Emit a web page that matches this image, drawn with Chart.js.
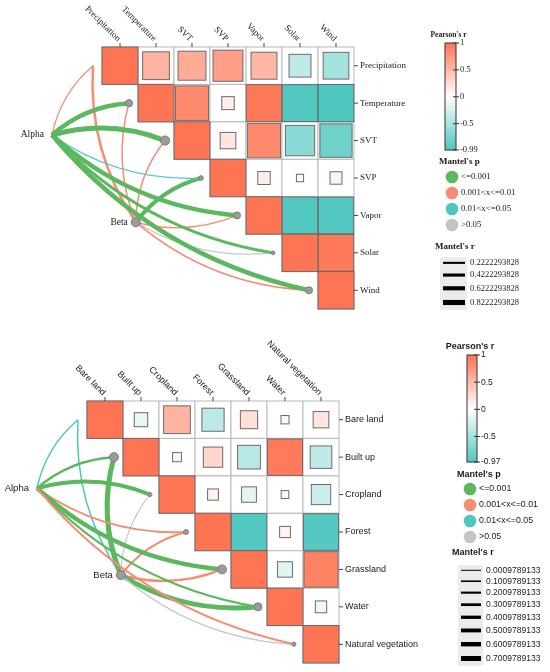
<!DOCTYPE html>
<html>
<head>
<meta charset="utf-8">
<script src="https://cdn.jsdelivr.net/npm/chart.js@4.4.1/dist/chart.umd.min.js"></script>
<style>
  body { margin: 0; background: #fff; }
  .panel { position: absolute; left: 0; width: 550px; height: 336px; }
</style>
</head>
<body>
<div class="panel" style="top:0"><canvas id="climate" width="550" height="336"></canvas></div>
<div class="panel" style="top:336px"><canvas id="land" width="550" height="336"></canvas></div>
<script>
// ---- top panel: climate variables ----
const climateVars = ['Precipitation', 'Temperature', 'SVT', 'SVP', 'Vapor', 'Solar', 'Wind']
// Pearson's r, upper triangle row by row (first value = diagonal)
const climateCorr = [
  [1, 0.55, 0.6, 0.69, 0.52, -0.37, -0.51],
  [1, 0.85, 0.12, 0.97, -0.97, -0.99],
  [1, 0.19, 0.85, -0.66, -0.8],
  [1, 0.12, 0.04, -0.11],
  [1, -0.97, -0.96],
  [1, 0.96],
  [1]
]
// mantel links, p class: 0 <=0.001, 1 0.001<x<=0.01, 2 0.01<x<=0.05, 3 >0.05
const climateAlphaP = [1, 0, 0, 2, 0, 0, 0]
const climateAlphaR = [0.05, 0.7, 0.82, 0.04, 0.7, 0.4, 0.7]
const climateBetaP = [1, 1, 1, 0, 1, 3, 1]
const climateBetaR = [0.3, 0.1, 0.1, 0.6, 0.1, 0.02, 0.1]
const climatePearsonTicks = [1, 0.5, 0, -0.5, -0.99]
const climateMantelRBreaks = ['0.2222293828', '0.4222293828', '0.6222293828', '0.8222293828']

// ---- bottom panel: land cover ----
const landVars = ['Bare land', 'Built up', 'Cropland', 'Forest', 'Grassland', 'Water', 'Natural vegetation']
const landCorr = [
  [1, -0.14, 0.55, -0.38, 0.23, 0.05, 0.19],
  [1, 0.06, 0.29, -0.4, 0.95, -0.36],
  [1, 0.09, -0.17, 0.045, -0.29],
  [1, -0.97, 0.09, -0.95],
  [1, -0.17, 0.9],
  [1, -0.1],
  [1]
]
const landAlphaP = [2, 0, 0, 1, 0, 0, 1]
const landAlphaR = [0.09, 0.26, 0.53, 0.18, 0.6, 0.18, 0.18]
const landBetaP = [2, 0, 3, 1, 1, 0, 3]
const landBetaR = [0.09, 0.72, 0.01, 0.22, 0.26, 0.68, 0.04]
const landPearsonTicks = [1, 0.5, 0, -0.5, -0.97]
const landMantelRBreaks = ['0.0009789133', '0.1009789133', '0.2009789133', '0.3009789133',
  '0.4009789133', '0.5009789133', '0.6009789133', '0.7009789133']

const pLabels = ['<=0.001', '0.001<x<=0.01', '0.01<x<=0.05', '>0.05']
const pColors = ['#5CB85F', '#F98B72', '#4FC7BF', '#C4C4C4']
const POS = [255, 116, 82]
const NEG = [76, 198, 190]

const rColor = (r) => {
  const c = r >= 0 ? POS : NEG
  const t = Math.min(1, Math.abs(r))
  return 'rgb(' + c.map(v => Math.round(255 + (v - 255) * t)).join(',') + ')'
}

const mantelPlugin = (p) => ({
  id: 'mantel',
  beforeDatasetsDraw(chart) {
    const ctx = chart.ctx
    const X = v => chart.scales.x.getPixelForValue(v)
    const Y = v => chart.scales.y.getPixelForValue(v)
    const n = p.vars.length
    ctx.save()
    ctx.lineWidth = 1
    // grid cells of upper triangle
    for (let i = 0; i < n; i++) {
      for (let j = i; j < n; j++) {
        const x0 = X(j - 0.5), y0 = Y(i - 0.5)
        ctx.fillStyle = '#fff'
        ctx.fillRect(x0, y0, X(j + 0.5) - x0, Y(i + 0.5) - y0)
        ctx.strokeStyle = '#b9b9b9'
        ctx.strokeRect(x0, y0, X(j + 0.5) - x0, Y(i + 0.5) - y0)
      }
    }
    // squares, side ~ sqrt(|r|)
    for (let i = 0; i < n; i++) {
      for (let j = i; j < n; j++) {
        const r = p.corr[i][j - i]
        const s = Math.sqrt(Math.abs(r))
        const x0 = X(j - s / 2), y0 = Y(i - s / 2)
        ctx.fillStyle = rColor(r)
        ctx.fillRect(x0, y0, X(j + s / 2) - x0, Y(i + s / 2) - y0)
        ctx.strokeStyle = '#6b6b6b'
        ctx.strokeRect(x0, y0, X(j + s / 2) - x0, Y(i + s / 2) - y0)
      }
    }
    // curved links
    const links = [
      [p.beta, p.betaP, p.betaR, 4],
      [p.alpha, p.alphaP, p.alphaR, 3]
    ]
    links.forEach(([node, pc, rr, upRows]) => {
      for (let k = 0; k < n; k++) {
        const x0 = X(node.x), y0 = Y(node.y)
        const x1 = X(k - 0.75), y1 = Y(k)
        const dx = x1 - x0, dy = y1 - y0
        const sg = k < upRows ? 1 : -1
        const cx = (x0 + x1) / 2 + sg * dy * 0.17
        const cy = (y0 + y1) / 2 - sg * dx * 0.17
        ctx.beginPath()
        ctx.moveTo(x0, y0)
        ctx.quadraticCurveTo(cx, cy, x1, y1)
        ctx.strokeStyle = pColors[pc[k]]
        ctx.lineWidth = p.width(rr[k])
        ctx.stroke()
      }
    })
    ctx.restore()
  },
  afterDraw(chart) {
    const ctx = chart.ctx
    const X = v => chart.scales.x.getPixelForValue(v)
    const Y = v => chart.scales.y.getPixelForValue(v)
    const n = p.vars.length
    const top = Y(-0.5), right = X(n - 0.5)
    ctx.save()
    ctx.fillStyle = '#1a1a1a'
    ctx.strokeStyle = '#444'
    ctx.lineWidth = 1
    ctx.font = '9px ' + p.font
    // axis ticks + labels
    p.vars.forEach((v, k) => {
      const x = X(k)
      ctx.beginPath(); ctx.moveTo(x, top - 4); ctx.lineTo(x, top); ctx.stroke()
      ctx.save()
      ctx.translate(x - 1, top - 7)
      ctx.rotate(Math.PI / 4)
      ctx.textAlign = 'right'; ctx.textBaseline = 'middle'
      ctx.fillText(v, 0, 0)
      ctx.restore()
      const y = Y(k)
      ctx.beginPath(); ctx.moveTo(right, y); ctx.lineTo(right + 4, y); ctx.stroke()
      ctx.textAlign = 'left'; ctx.textBaseline = 'middle'
      ctx.fillText(v, right + 6, y)
    })
    // node labels
    ctx.font = '9.5px ' + p.font
    ctx.textAlign = 'right'
    ctx.fillText('Alpha', X(p.alpha.x) - 8, Y(p.alpha.y))
    ctx.fillText('Beta', X(p.beta.x) - 8, Y(p.beta.y))

    // legend: Pearson's r colorbar
    const L = p.legend
    ctx.font = 'bold ' + L.titleSize + 'px ' + p.font
    ctx.textAlign = 'center'
    ctx.fillText("Pearson's r", L.barX + L.barW / 2 - 2, L.barY - 8)
    const lo = p.pticks[p.pticks.length - 1]
    const grad = ctx.createLinearGradient(0, L.barY, 0, L.barY + L.barH)
    const zero = 1 / (1 - lo)
    grad.addColorStop(0, rColor(1))
    grad.addColorStop(zero / 2, rColor(0.5))
    grad.addColorStop(zero, '#ffffff')
    grad.addColorStop(1, rColor(lo))
    ctx.fillStyle = grad
    ctx.fillRect(L.barX, L.barY, L.barW, L.barH)
    ctx.strokeStyle = '#333'
    ctx.strokeRect(L.barX, L.barY, L.barW, L.barH)
    ctx.fillStyle = '#1a1a1a'
    ctx.font = '8.5px ' + p.font
    ctx.textAlign = 'left'
    p.pticks.forEach(t => {
      const y = L.barY + (1 - t) / (1 - lo) * L.barH
      ctx.beginPath(); ctx.moveTo(L.barX + L.barW - 3, y); ctx.lineTo(L.barX + L.barW + 3, y); ctx.stroke()
      ctx.fillText(String(t), L.barX + L.barW + 4, y)
    })
    // legend: Mantel's p
    ctx.font = 'bold 9px ' + p.font
    ctx.fillText("Mantel's p", L.pTitleX, L.pTitleY)
    ctx.font = '8.8px ' + p.font
    pLabels.forEach((t, k) => {
      const y = L.pY + k * 16
      ctx.beginPath(); ctx.arc(L.pX, y, 6.3, 0, Math.PI * 2)
      ctx.fillStyle = pColors[k]; ctx.fill()
      ctx.fillStyle = '#1a1a1a'
      ctx.fillText(t, L.pX + 9, y)
    })
    // legend: Mantel's r
    ctx.font = 'bold 9px ' + p.font
    ctx.fillText("Mantel's r", L.rTitleX, L.rTitleY)
    ctx.font = '8.5px ' + p.font
    let y = L.keyY
    p.rbreaks.forEach(t => {
      const w = p.width(parseFloat(t))
      const h = 9.6 + w
      ctx.fillStyle = '#ebebeb'
      ctx.fillRect(L.keyX, y, L.keyW, h)
      ctx.strokeStyle = '#000'
      ctx.lineWidth = w
      ctx.beginPath(); ctx.moveTo(L.keyX + 3, y + h / 2); ctx.lineTo(L.keyX + L.keyW - 2, y + h / 2); ctx.stroke()
      ctx.fillStyle = '#1a1a1a'
      ctx.fillText(t, L.keyX + L.keyW + 3, y + h / 2)
      y += h
    })
    ctx.restore()
  }
})

const makePanel = (id, p) => {
  const pts = p.vars.map((v, k) => ({ x: k - 0.75, y: k })).concat([p.alpha, p.beta])
  new Chart(document.getElementById(id), {
    type: 'scatter',
    data: {
      datasets: [{
        data: pts,
        pointRadius: p.radius,
        backgroundColor: '#9b9b9b',
        borderColor: '#7d7d7d',
        borderWidth: 1,
        clip: false
      }]
    },
    options: {
      responsive: false,
      animation: false,
      events: [],
      layout: { padding: p.pad },
      scales: {
        x: { type: 'linear', min: -0.5, max: 6.5, display: false },
        y: { type: 'linear', min: -0.5, max: 6.5, reverse: true, display: false }
      },
      plugins: { legend: { display: false }, tooltip: { enabled: false } }
    },
    plugins: [mantelPlugin(p)]
  })
}

makePanel('climate', {
  vars: climateVars, corr: climateCorr,
  alpha: { x: -1.89, y: 1.85 }, beta: { x: 0.44, y: 4.18 },
  alphaP: climateAlphaP, alphaR: climateAlphaR, betaP: climateBetaP, betaR: climateBetaR,
  pticks: climatePearsonTicks, rbreaks: climateMantelRBreaks,
  width: r => 1 + 5 * r,
  radius: [2.3, 3.6, 4.6, 2.3, 3.5, 1.8, 3.5, 4.6, 4.6],
  font: '"Liberation Serif", serif',
  pad: { left: 102, right: 196, top: 47, bottom: 27 },
  legend: { titleSize: 7.5, barX: 445, barY: 43, barW: 11, barH: 107,
    pTitleX: 439, pTitleY: 162, pX: 452, pY: 177,
    rTitleX: 435, rTitleY: 247, keyX: 440, keyY: 257, keyW: 27 }
})

makePanel('land', {
  vars: landVars, corr: landCorr,
  alpha: { x: -1.89, y: 1.83 }, beta: { x: 0.44, y: 4.15 },
  alphaP: landAlphaP, alphaR: landAlphaR, betaP: landBetaP, betaR: landBetaR,
  pticks: landPearsonTicks, rbreaks: landMantelRBreaks,
  width: r => 1 + 5.7 * r,
  radius: [2, 4.5, 2, 2.5, 4.5, 4, 2, 4.6, 4.6],
  font: '"Liberation Sans", sans-serif',
  pad: { left: 87, right: 211, top: 65, bottom: 9 },
  legend: { titleSize: 9, barX: 467, barY: 19, barW: 10, barH: 107,
    pTitleX: 457, pTitleY: 139, pX: 470, pY: 153,
    rTitleX: 452, rTitleY: 217, keyX: 458, keyY: 229, keyW: 25 }
})
</script>
</body>
</html>
